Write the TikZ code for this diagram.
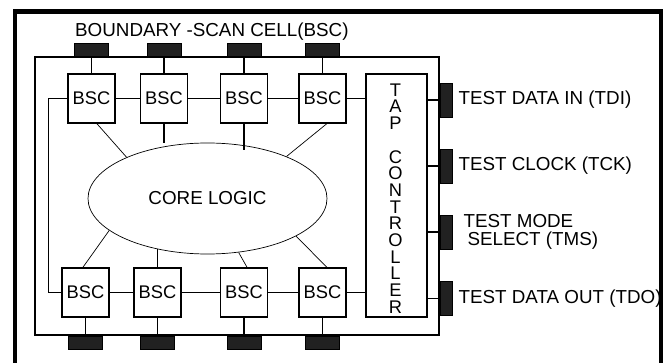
\documentclass[tikz,border=0pt]{standalone}
\usepackage{fontspec}
\setmainfont{Liberation Sans}
\usetikzlibrary{shapes.geometric}
\usetikzlibrary{positioning}
\tikzset{
	wire/.style={line width=1.2pt},
	thinwire/.style={line width=0.7pt},
	bsc/.style={draw, wire, minimum width=47pt, minimum height=49pt, inner sep=0pt, font=\fontsize{18.3}{20}\selectfont},
	pinbox/.style={draw, line width=0.8pt, fill=black!87, minimum width=34pt, minimum height=13pt, inner sep=0pt},
	sidepin/.style={pinbox, minimum width=12pt, minimum height=34pt},
	lbl/.style={inner sep=0pt, font=\fontsize{18.8}{17.7}\selectfont, align=left},
}

\begin{document}
\begin{tikzpicture}[x=1pt, y=-1pt]
			\useasboundingbox (0,0) rectangle (670,363);

			\node[draw, wire, minimum width=404pt, minimum height=278pt] (chip) at (237,196) {};

			% scan cells
			\node[bsc] (tb1) at (91.5,98.5) {BSC};
			\node[bsc] (tb2) at (164,98.5) {BSC};
			\node[bsc] (tb3) at (244,98.5) {BSC};
			\node[bsc] (tb4) at (322.5,98.5) {BSC};
			\node[bsc] (bb1) at (85.5,292.5) {BSC};
			\node[bsc] (bb2) at (157.5,292.5) {BSC};
			\node[bsc] (bb3) at (244,292.5) {BSC};
			\node[bsc] (bb4) at (322.5,292.5) {BSC};

			\node[draw, thinwire, ellipse, minimum width=239pt, minimum height=111pt, inner sep=0pt, font=\fontsize{18.8}{20}\selectfont] (core) at (207.5,198.5) {CORE LOGIC};

			\node[draw, wire, minimum width=61pt, minimum height=243pt] (tap) at (396.5,195.5) {};
			\node[inner sep=0pt, align=center, font=\fontsize{18.3}{16.7}\selectfont] (taptext) at (395.5,198.5) {T\\A\\P\\~\\C\\O\\N\\T\\R\\O\\L\\L\\E\\R};

			% pins
			\node[pinbox] (tp1) at (91.5,49.5) {};
			\node[pinbox] (tp2) at (164,49.5) {};
			\node[pinbox] (tp3) at (244,49.5) {};
			\node[pinbox] (tp4) at (322.5,49.5) {};
			\node[pinbox] (bp1) at (85.5,342.5) {};
			\node[pinbox] (bp2) at (157.5,342.5) {};
			\node[pinbox] (bp3) at (244,342.5) {};
			\node[pinbox] (bp4) at (322.5,342.5) {};
			\node[sidepin] (tdi) at (446,100) {};
			\node[sidepin] (tck) at (446,166) {};
			\node[sidepin] (tms) at (446,232) {};
			\node[sidepin] (tdo) at (446,298.5) {};

			\draw[wire] (tp1) -- (tb1) (tp2) -- (tb2) (tp3) -- (tb3) (tp4) -- (tb4);
			\draw[wire] (bb1) -- (bp1) (bb2) -- (bp2) (bb3) -- (bp3) (bb4) -- (bp4);

			\draw[wire] (tb1) -- (tb2) (tb2) -- (tb3) (tb3) -- (tb4);
			\draw[wire] (bb1) -- (bb2) (bb2) -- (bb3) (bb3) -- (bb4);
			\draw[wire] (tb4.east) -- (tb4.east -| tap.west);
			\draw[wire] (bb4.east) -- (bb4.east -| tap.west);
			\draw[wire] (tb1.west) -- ++(-19,0) |- (bb1.west);

			\draw[wire] (tap.east |- tdi) -- (tdi);
			\draw[wire] (tap.east |- tck) -- (tck);
			\draw[wire] (tap.east |- tms) -- (tms);
			\draw[wire] (tap.east |- tdo) -- (tdo);

			\draw[thinwire] (tb1.-78) -- (core.153);
			\draw[wire] (tb2.south) -- (tb2.south |- core.north);
			\draw[wire] (tb3.south) -- ++(0,26);
			\draw[thinwire] (tb4.-80) -- (core.28);
			\draw[thinwire] (bb1.96) -- (core.198);
			\draw[wire] (bb2.north) -- (bb2.north |- core.225);
			\draw[thinwire] (bb3.83) -- (core.-60);
			\draw[thinwire] (bb4.80) -- (core.-23);

			\node[lbl, anchor=west] (title) at (75,32) {BOUNDARY -SCAN CELL(BSC)};
			\node[lbl, right=6pt of tdi] (tdilbl) {TEST DATA IN (TDI)};
			\node[lbl, right=6pt of tck] (tcklbl) {TEST CLOCK (TCK)};
			\node[lbl, right=11pt of tms] (tmslbl) {TEST MODE\\\hspace{4pt}SELECT (TMS)};
			\node[lbl, right=6pt of tdo] (tdolbl) {TEST DATA OUT (TDO)};

			\draw[line width=4.5pt] (15,363) |- (661,11.7) -- (661,363);
	 %   outer frame, bottom edge cut off
\end{tikzpicture}
\end{document}
